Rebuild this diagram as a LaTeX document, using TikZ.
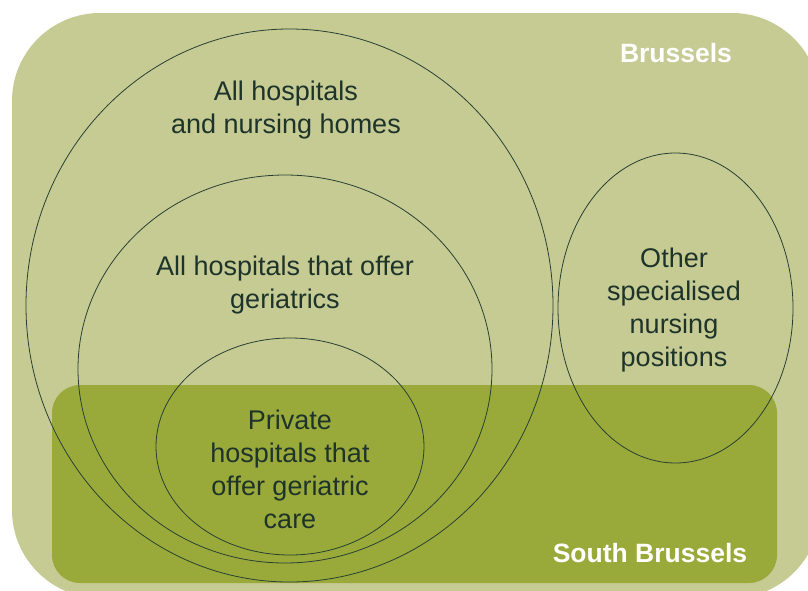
\documentclass[tikz,border=0pt]{standalone}
\usepackage{fontspec}
\setmainfont{Liberation Sans}
\usetikzlibrary{shapes.geometric}
\definecolor{regionlight}{RGB}{198,203,148}
\definecolor{regiondark}{RGB}{154,170,58}
\definecolor{ringline}{RGB}{40,64,50}
\definecolor{labeltext}{RGB}{30,52,42}
\tikzset{
  ring/.style={draw=ringline, line width=0.8pt, ellipse, inner sep=0pt},
  setlabel/.style={text=labeltext, align=center, font=\fontsize{27}{33}\selectfont},
  arealabel/.style={text=white, font=\bfseries\fontsize{26.5}{30}\selectfont}
}
\begin{document}
\begin{tikzpicture}[x=1pt, y=-1pt]
  \useasboundingbox (0,0) rectangle (808,590);
  \clip (0,0) rectangle (808,590);
  % Brussels region
  \fill[regionlight, rounded corners=88pt] (12,13) rectangle (820,598);
  % South Brussels region
  \fill[regiondark, rounded corners=28pt] (52,385) rectangle (777,583);
  % nested sets
  \node[ring, minimum width=527pt, minimum height=553pt] (all) at (289.5,305.5) {};
  \node[ring, minimum width=414pt, minimum height=388pt] (geri) at (285,369) {};
  \node[ring, minimum width=268pt, minimum height=217pt] (priv) at (290,446.5) {};
  \node[ring, minimum width=235pt, minimum height=310pt] (other) at (675.5,308) {};
  % set labels
  \node[setlabel] (allT) at (286,110) {All hospitals\\and nursing homes};
  \node[setlabel] (geriT) at (285,285) {All hospitals that offer\\geriatrics};
  \node[setlabel] (privT) at (290,469) {Private\\hospitals that\\offer geriatric\\care};
  \node[setlabel] (otherT) at (674,310) {Other\\specialised\\nursing\\positions};
  % area labels
  \node[arealabel] (bxl) at (676,53) {Brussels};
  \node[arealabel] (sbxl) at (650,553) {South Brussels};
\end{tikzpicture}
\end{document}
